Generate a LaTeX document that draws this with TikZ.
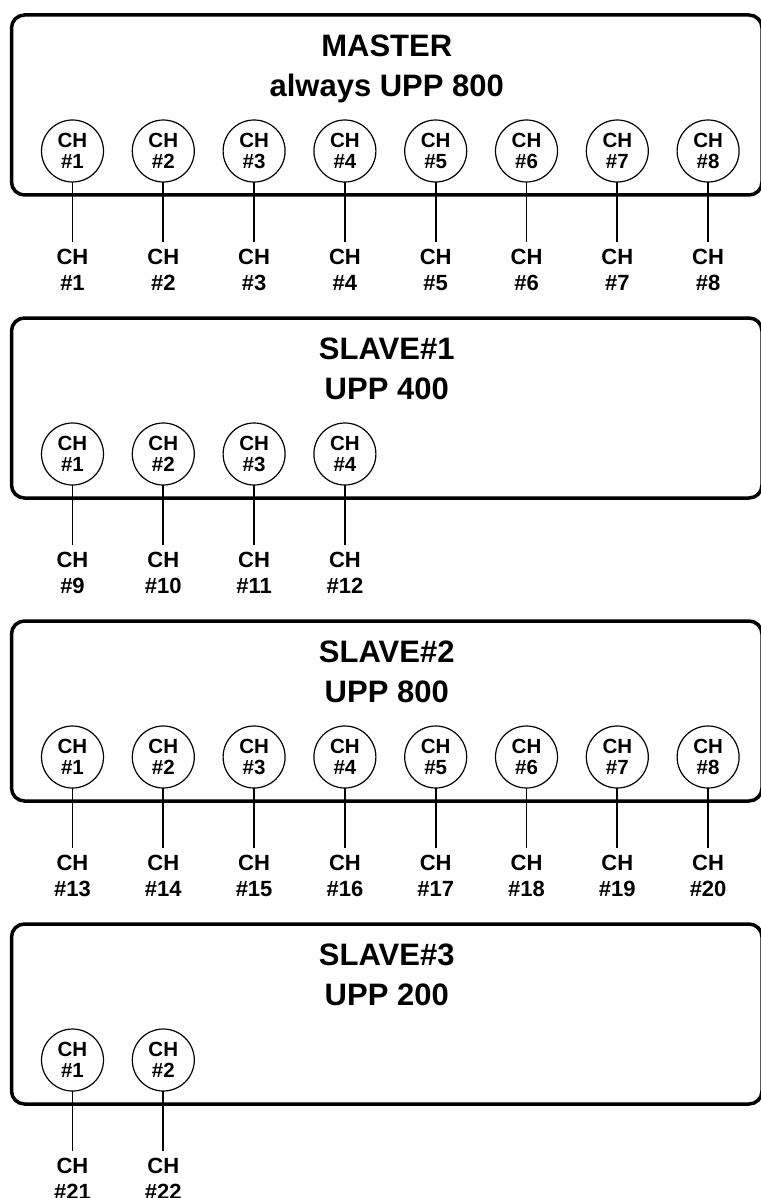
\documentclass[tikz,border=0pt]{standalone}
\usepackage{fontspec}
\setmainfont{Liberation Sans}
\usetikzlibrary{positioning}

\begin{document}
\begin{tikzpicture}[x=1pt,y=-1pt,
    unitbox/.style={draw,line width=3.5pt,rounded corners=13pt,
      minimum width=750.5pt,minimum height=180pt,outer sep=0pt},
    unittitle/.style={inner sep=0pt,align=center,
      font=\fontsize{31}{40}\selectfont\bfseries},
    chan/.style={circle,draw,line width=1.2pt,minimum size=62pt,
      inner sep=0pt,outer sep=0pt,align=center,
      font=\fontsize{20.5}{21.5}\selectfont\bfseries},
    chout/.style={inner xsep=0pt,inner ysep=7pt,outer sep=0pt,align=center,
      font=\fontsize{22}{26}\selectfont\bfseries},
    wire/.style={line width=1.8pt}]
  \useasboundingbox (0,0) rectangle (760,1198);

  % One box per unit: index, name, speed, channel count, first output.
  \foreach \k/\unitname/\speed/\nch/\firstch in {
      0/MASTER/always UPP 800/8/1,
      1/SLAVE\#1/UPP 400/4/9,
      2/SLAVE\#2/UPP 800/8/13,
      3/SLAVE\#3/UPP 200/2/21
  }{
      \pgfmathsetmacro\ytop{15+303*\k}
      \node[unitbox,anchor=north west] (unit\k) at (11.5,\ytop) {};
      \node[unittitle,below=20pt of unit\k.north] (title\k)
          {\unitname\\\speed};

      % Channel sockets and the numbered outputs below them.
      \foreach \i in {1,...,\nch}{
          \pgfmathsetmacro\cx{72.5+90.8*(\i-1)}
          \pgfmathtruncatemacro\num{\firstch+\i-1}
          \node[chan] (ch\k-\i) at (\cx,\ytop+136) {CH\\\#\i};
          \node[chout,below=60pt of ch\k-\i] (out\k-\i) {CH\\\#\num};
          \draw[wire] (ch\k-\i) -- (out\k-\i);
      }
  }
\end{tikzpicture}
\end{document}
